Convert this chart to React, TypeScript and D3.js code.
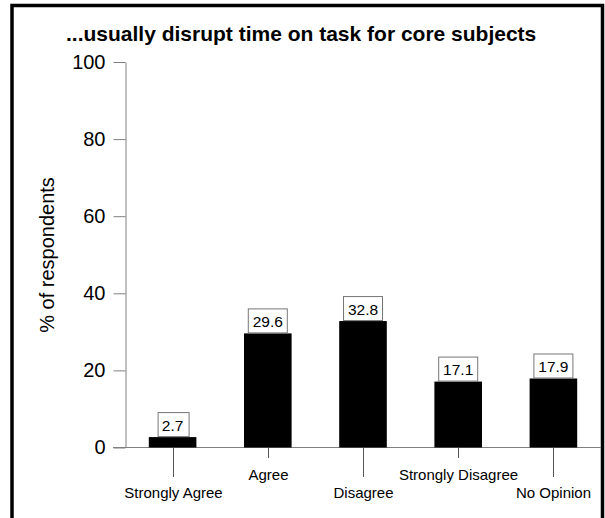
import React, { useEffect, useRef } from 'react';
import * as d3 from 'd3';

const categories = ['Strongly Agree', 'Agree', 'Disagree', 'Strongly Disagree', 'No Opinion'];
const values = [2.7, 29.6, 32.8, 17.1, 17.9];
const yTicks = [0, 20, 40, 60, 80, 100];
const title = '...usually disrupt time on task for core subjects';
const yTitle = '% of respondents';

const FONT = '"Liberation Sans", Arial, Helvetica, sans-serif';

const App: React.FC = () => {
  const svgRef = useRef<SVGSVGElement | null>(null);

  useEffect(() => {
    if (!svgRef.current) return;
    const width = 605;
    const height = 518;

    const svg = d3.select(svgRef.current)
      .attr('width', width)
      .attr('height', height)
      .style('font-family', FONT);
    svg.selectAll('*').remove();

    const y = d3.scaleLinear().domain([0, 100]).range([447.5, 62]);
    const x = d3.scaleBand<string>()
      .domain(categories)
      .range([125, 601])
      .paddingInner(0.5)
      .paddingOuter(0.25);

    // frame
    svg.append('rect')
      .attr('x', 12)
      .attr('y', 5.5)
      .attr('width', 590.5)
      .attr('height', 560)
      .attr('fill', 'white')
      .attr('stroke', 'black')
      .attr('stroke-width', 3.5);

    // title
    svg.append('text')
      .attr('x', 66)
      .attr('y', 41)
      .attr('font-size', 21)
      .attr('font-weight', 'bold')
      .attr('fill', 'black')
      .text(title);

    // y axis
    const yAxis = svg.append('g')
      .attr('transform', 'translate(125.5,0)')
      .call(d3.axisLeft(y).tickValues(yTicks).tickSize(12).tickSizeOuter(0).tickPadding(8));
    yAxis.select('.domain').attr('stroke', '#808080');
    yAxis.selectAll('.tick line').attr('stroke', '#808080');
    yAxis.selectAll('.tick text')
      .attr('font-size', 20)
      .attr('font-family', FONT)
      .attr('fill', 'black');

    svg.append('text')
      .attr('transform', 'rotate(-90)')
      .attr('x', -255)
      .attr('y', 54)
      .attr('text-anchor', 'middle')
      .attr('font-size', 20)
      .attr('fill', 'black')
      .text(yTitle);

    // x axis line
    svg.append('line')
      .attr('x1', 113)
      .attr('x2', 601)
      .attr('y1', y(0))
      .attr('y2', y(0))
      .attr('stroke', '#808080');

    // bars
    svg.append('g')
      .selectAll('rect')
      .data(values)
      .join('rect')
      .attr('x', (_, i) => x(categories[i])!)
      .attr('width', x.bandwidth())
      .attr('y', d => y(d))
      .attr('height', d => y(0) - y(d))
      .attr('fill', 'black');

    // category ticks and labels, alternating rows
    const cat = svg.append('g')
      .selectAll('g')
      .data(categories)
      .join('g')
      .attr('transform', d => `translate(${Math.round(x(d)! + x.bandwidth() / 2) + 0.5},0)`);
    cat.append('line')
      .attr('y1', y(0))
      .attr('y2', (_, i) => (i % 2 === 0 ? 477 : 458))
      .attr('stroke', '#555');
    cat.append('text')
      .attr('y', (_, i) => (i % 2 === 0 ? 498 : 480))
      .attr('text-anchor', 'middle')
      .attr('font-size', 15)
      .attr('fill', 'black')
      .text(d => d);

    // value boxes
    const lbl = svg.append('g')
      .selectAll('g')
      .data(values)
      .join('g')
      .attr('transform', (d, i) => `translate(${x(categories[i])! + x.bandwidth() / 2},${y(d)})`);
    const rects = lbl.append('rect')
      .attr('fill', 'white')
      .attr('stroke', '#777')
      .attr('stroke-width', 1);
    const txt = lbl.append('text')
      .attr('text-anchor', 'middle')
      .attr('y', -12)
      .attr('dy', '0.36em')
      .attr('font-size', 15.5)
      .attr('fill', 'black')
      .text(d => d.toFixed(1));
    txt.each(function (_, i) {
      const w = (this as SVGTextElement).getComputedTextLength() + 9;
      d3.select(rects.nodes()[i])
        .attr('x', Math.round(-w / 2) + 0.5)
        .attr('y', -24.5)
        .attr('width', Math.round(w))
        .attr('height', 24);
    });
  }, []);

  return (
    <div style={{ position: 'absolute', left: 0, top: 0 }}>
      <svg ref={svgRef} style={{ display: 'block' }}></svg>
    </div>
  );
};

export default App;
